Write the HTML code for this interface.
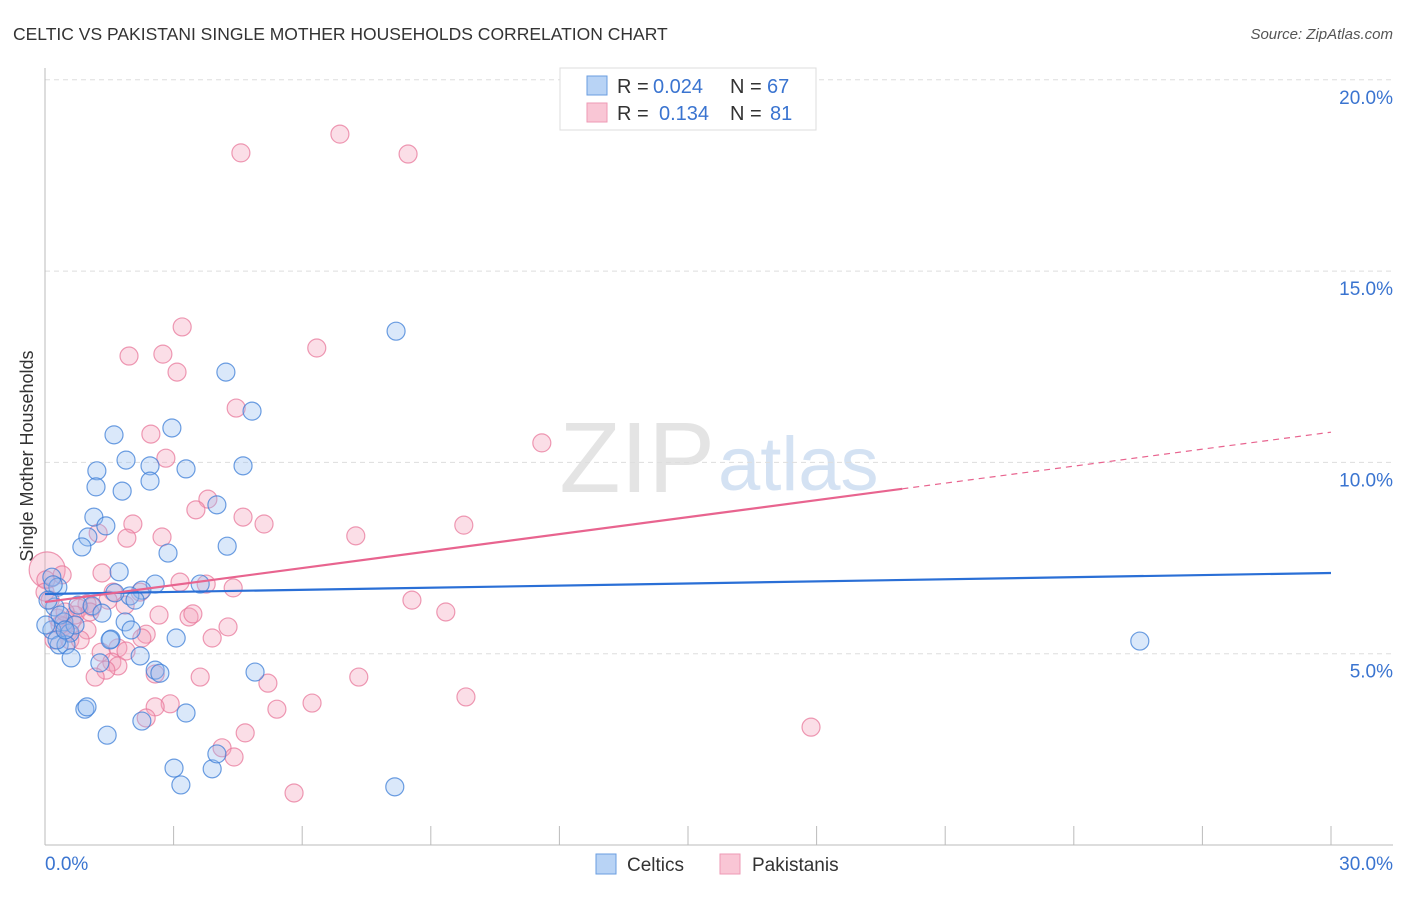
<!DOCTYPE html>
<html><head><meta charset="utf-8"><style>
body{margin:0;background:#fff;width:1406px;height:892px;overflow:hidden;font-family:"Liberation Sans",sans-serif}
svg text{font-family:"Liberation Sans",sans-serif}
</style></head><body>
<svg id="chart" width="1406" height="892" xmlns="http://www.w3.org/2000/svg">
<text x="13" y="40" font-size="17.5" fill="#333">CELTIC VS PAKISTANI SINGLE MOTHER HOUSEHOLDS CORRELATION CHART</text>
<text x="1393" y="39" font-size="15" fill="#555" font-style="italic" text-anchor="end">Source: ZipAtlas.com</text>
<text x="715" y="492" font-size="100" fill="#e4e4e4" text-anchor="end" font-family="Liberation Serif">ZIP</text>
<text x="718" y="490" font-size="76" fill="#d4e2f3">atlas</text>
<text transform="translate(33,456) rotate(-90)" font-size="18" fill="#333" text-anchor="middle">Single Mother Households</text>
<g id="grid"></g>
<g id="axes"></g>
<g id="points"></g>
<g id="lines"></g>
<g>
<rect x="560" y="68" width="256" height="62" fill="#fff" stroke="#ddd"/>
<rect x="587" y="76" width="20" height="19" fill="#b8d3f5" stroke="#6a9ee0"/>
<rect x="587" y="103" width="20" height="19" fill="#f9c6d5" stroke="#ee9ab5"/>
<text x="617" y="93" font-size="20" fill="#333">R =</text>
<text x="653" y="93" font-size="20" fill="#3a74d0">0.024</text>
<text x="730" y="93" font-size="20" fill="#333">N =</text>
<text x="767" y="93" font-size="20" fill="#3a74d0">67</text>
<text x="617" y="120" font-size="20" fill="#333">R =</text>
<text x="659" y="120" font-size="20" fill="#3a74d0">0.134</text>
<text x="730" y="120" font-size="20" fill="#333">N =</text>
<text x="770" y="120" font-size="20" fill="#3a74d0">81</text>
</g>
<g>
<rect x="596" y="854" width="20" height="20" fill="#b8d3f5" stroke="#6a9ee0"/>
<text x="627" y="871" font-size="19" fill="#333">Celtics</text>
<rect x="720" y="854" width="20" height="20" fill="#f9c6d5" stroke="#ee9ab5"/>
<text x="752" y="871" font-size="19" fill="#333">Pakistanis</text>
</g>
</svg>
<script>
const xTicks=[0,3,6,9,12,15,18,21,24,27,30];
const yTicks=[5,10,15,20];
const yTickLabels=["5.0%","10.0%","15.0%","20.0%"];
const xEndLabels=["0.0%","30.0%"];
const celticsX=[8.19,4.22,4.83,1.61,2.96,1.89,2.45,1.21,3.29,4.62,1.19,2.45,1.80,4.01,1.14,1.42,1.00,0.86,2.87,4.25,1.73,0.16,0.30,2.57,3.62,2.26,1.98,1.63,0.23,0.77,1.10,1.33,1.87,0.44,0.16,2.01,1.54,3.06,0.58,0.33,0.49,0.61,2.22,1.28,2.57,2.68,4.90,0.93,0.98,1.45,3.29,2.26,3.01,3.90,4.01,3.17,8.16,25.54,0.19,0.07,0.35,0.70,0.02,1.52,2.10,0.28,0.47];
const celticsY=[13.43,12.36,11.34,10.72,10.90,10.06,9.91,9.78,9.83,9.91,9.36,9.51,9.25,8.89,8.57,8.34,8.05,7.79,7.63,7.81,7.14,7.00,6.74,6.82,6.82,6.66,6.51,6.59,6.22,6.27,6.25,6.06,5.83,5.83,5.62,5.62,5.38,5.41,5.54,5.23,5.23,4.89,4.94,4.76,4.57,4.49,4.52,3.55,3.61,2.87,3.45,3.24,2.01,1.99,2.38,1.57,1.52,5.33,6.80,6.40,6.01,5.75,5.75,5.36,6.40,5.36,5.62];
const pakX=[6.88,4.57,8.47,3.20,6.34,1.96,2.75,3.08,4.46,2.47,11.59,2.82,3.80,3.52,4.62,5.11,9.77,2.05,7.25,2.73,1.91,1.24,1.33,3.15,3.76,4.39,1.59,2.22,8.56,9.35,1.10,0.98,2.66,3.36,3.45,4.27,3.90,2.36,2.26,0.98,0.54,0.63,0.30,0.79,0.05,0.02,0.00,0.44,1.70,1.89,1.31,1.56,1.70,1.42,2.57,1.17,3.62,5.20,7.32,9.82,6.23,2.92,2.57,5.41,2.36,17.87,4.67,4.13,4.41,5.81,0.21,0.35,0.70,0.47,1.87,1.05,0.12,0.58,0.82,1.47,0.40];
const pakY=[18.58,18.09,18.06,13.54,12.99,12.78,12.83,12.36,11.42,10.74,10.51,10.11,9.04,8.76,8.57,8.39,8.36,8.39,8.08,8.05,8.02,8.15,7.11,6.87,6.82,6.72,6.61,6.61,6.40,6.09,6.22,6.30,6.01,5.96,6.04,5.70,5.41,5.51,5.41,5.62,5.57,5.88,5.93,6.19,7.19,6.93,6.61,5.72,5.15,5.07,5.04,4.78,4.68,4.57,4.47,4.39,4.39,4.23,4.39,3.87,3.71,3.69,3.61,3.55,3.32,3.08,2.93,2.54,2.30,1.36,5.36,5.75,6.01,6.09,6.27,6.09,6.40,5.36,5.36,6.40,7.06];
const pakBig=[44];
const blueTrend=[6.56,7.11];
const pinkTrend=[6.35,10.79];
const pinkSolidEnd=20;

const X0=45,X1=1331,Y0=845,PXPER=38.26;
const sx=v=>X0+(v/30)*(X1-X0);
const sy=v=>Y0-v*PXPER;
const NS="http://www.w3.org/2000/svg";
function mk(tag,attrs,parent){const e=document.createElementNS(NS,tag);for(const k in attrs)e.setAttribute(k,attrs[k]);parent.appendChild(e);return e;}
const grid=document.getElementById('grid'),axes=document.getElementById('axes'),pts=document.getElementById('points'),lines=document.getElementById('lines');
yTicks.forEach((t,i)=>{
 const l=mk('line',{x1:X0,x2:1393,y1:sy(t),y2:sy(t),stroke:'#ddd','stroke-dasharray':'5,4'},grid);
 
 
 const tx=mk('text',{x:1393,y:sy(t)+24,'font-size':19,fill:'#3a74d0','text-anchor':'end'},axes);
 tx.textContent=yTickLabels[i];
 
 
});
const ax=mk('line',{x1:X0,x2:1393,y1:Y0,y2:Y0,stroke:'#bbb'},axes);


const ay=mk('line',{x1:X0,x2:X0,y1:68,y2:Y0,stroke:'#bbb'},axes);


xTicks.forEach(t=>{
 const l=mk('line',{x1:sx(t),x2:sx(t),y1:Y0-19,y2:Y0,stroke:'#bbb'},axes);
 
 
});
const xl0=mk('text',{x:X0,y:870,'font-size':19,fill:'#3a74d0'},axes);xl0.textContent=xEndLabels[0];


const xl1=mk('text',{x:1393,y:870,'font-size':19,fill:'#3a74d0','text-anchor':'end'},axes);xl1.textContent=xEndLabels[1];


pakX.forEach((x,i)=>{
 const c=mk('circle',{cx:sx(x),cy:sy(pakY[i]),r:pakBig.includes(i)?18:9,fill:'rgba(244,160,185,0.35)',stroke:'rgba(232,120,155,0.75)','stroke-width':1.2},pts);
 
 
});
celticsX.forEach((x,i)=>{
 const c=mk('circle',{cx:sx(x),cy:sy(celticsY[i]),r:9,fill:'rgba(150,190,240,0.35)',stroke:'rgba(60,125,215,0.75)','stroke-width':1.2},pts);
 
 
});
const bl=mk('line',{x1:sx(0),y1:sy(blueTrend[0]),x2:sx(30),y2:sy(blueTrend[1]),stroke:'#2a6fd6','stroke-width':2.2},lines);


const pm=pinkTrend[0]+(pinkTrend[1]-pinkTrend[0])*pinkSolidEnd/30;
const pl=mk('line',{x1:sx(0),y1:sy(pinkTrend[0]),x2:sx(pinkSolidEnd),y2:sy(pm),stroke:'#e8648f','stroke-width':2.2},lines);


const pd=mk('line',{x1:sx(pinkSolidEnd),y1:sy(pm),x2:sx(30),y2:sy(pinkTrend[1]),stroke:'#e8648f','stroke-width':1.2,'stroke-dasharray':'6,5'},lines);


</script>
</body></html>
